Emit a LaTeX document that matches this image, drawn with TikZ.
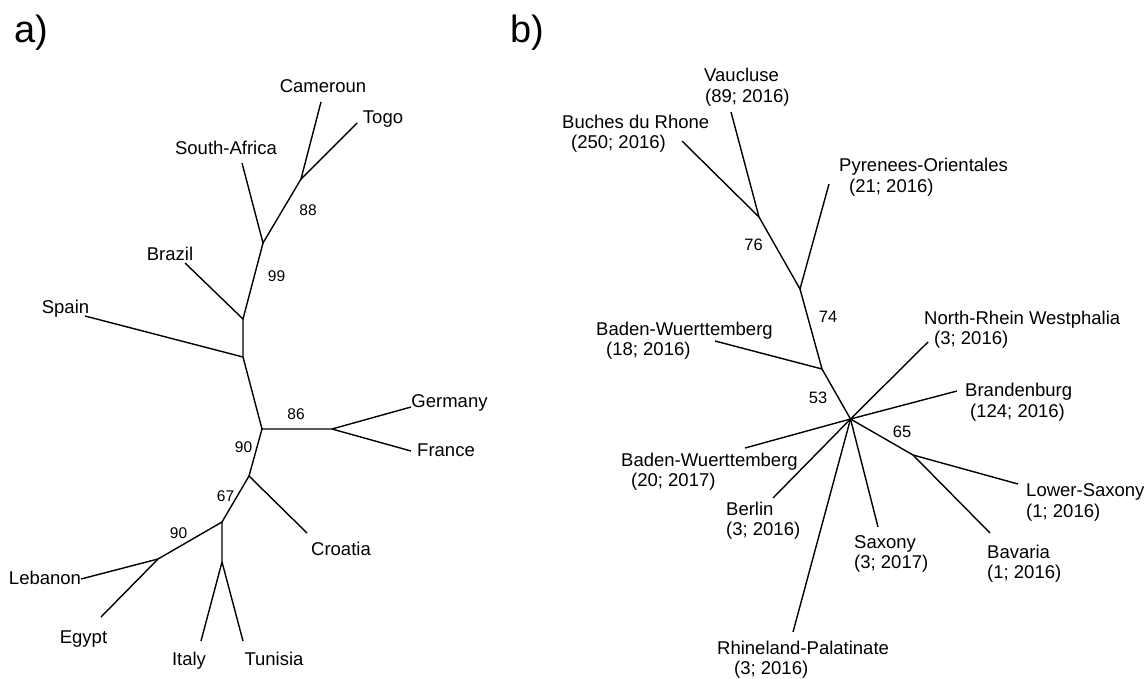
\documentclass[tikz,border=0pt]{standalone}
\usepackage{fontspec}
\setmainfont{Liberation Sans}
\begin{document}
\begin{tikzpicture}[x=1pt,y=-1pt,
  br/.style={line width=1.4pt},
  lab/.style={inner sep=0pt,font=\fontsize{18.5}{20.5}\selectfont},
  lbl/.style={lab,anchor=base},
  mlab/.style={lab,anchor=base west,align=left,yshift=-20.5pt},
  boot/.style={inner sep=0pt,anchor=base,font=\fontsize{15.5}{18}\selectfont},
  bootb/.style={inner sep=0pt,anchor=base,font=\fontsize{16.5}{19}\selectfont},
  panel/.style={inner sep=0pt,anchor=base west,font=\fontsize{38}{44}\selectfont}]
\useasboundingbox (0,0) rectangle (1147,678);

% ---------------- panel a ----------------
\node[panel] (pa) at (14.6,42) {a)};
\coordinate (aCam) at (321,102);
\coordinate (aTog) at (357,123);
\coordinate (a88) at (301,179);
\coordinate (aSA) at (242,163);
\coordinate (a99) at (263,243);
\coordinate (aBra) at (185,263);
\coordinate (aJB) at (243,319);
\coordinate (aSpa) at (85,316);
\coordinate (aJS) at (243,357);
\coordinate (a90) at (262,429);
\coordinate (aGF) at (332,429);
\coordinate (aGer) at (411,407);
\coordinate (aFra) at (411,451);
\coordinate (a67) at (249,476);
\coordinate (aCro) at (307,533);
\coordinate (a90b) at (222,522);
\coordinate (aLE) at (158,559);
\coordinate (aLeb) at (81,579);
\coordinate (aEgy) at (101,617);
\coordinate (aIT) at (222,562);
\coordinate (aIta) at (201,641);
\coordinate (aTun) at (243,641);

\draw[br] (aCam) -- (a88) -- (aTog);
\draw[br] (a88) -- (a99) -- (aSA);
\draw[br] (a99) -- (aJB) -- (aBra);
\draw[br] (aJB) -- (aJS) -- (aSpa);
\draw[br] (aJS) -- (a90) -- (aGF) -- (aGer);
\draw[br] (aGF) -- (aFra);
\draw[br] (a90) -- (a67) -- (aCro);
\draw[br] (a67) -- (a90b) -- (aLE) -- (aLeb);
\draw[br] (aLE) -- (aEgy);
\draw[br] (a90b) -- (aIT) -- (aIta);
\draw[br] (aIT) -- (aTun);

\node[lbl] (tCam) at (323,92) {Cameroun};
\node[lbl] (tTog) at (383,123) {Togo};
\node[lbl] (tSA) at (226,154) {South-Africa};
\node[lbl] (tBra) at (170,260) {Brazil};
\node[lbl] (tSpa) at (65.5,313) {Spain};
\node[lbl] (tGer) at (449.5,407) {Germany};
\node[lbl] (tFra) at (446,456) {France};
\node[lbl] (tCro) at (341,555) {Croatia};
\node[lbl] (tLeb) at (45,584) {Lebanon};
\node[lbl] (tEgy) at (83.5,643) {Egypt};
\node[lbl] (tIta) at (189,665) {Italy};
\node[lbl] (tTun) at (274,665) {Tunisia};

\node[boot] (n88) at (308,215) {88};
\node[boot] (n99) at (276.5,281) {99};
\node[boot] (n86) at (296,419) {86};
\node[boot] (n90a) at (243.5,452) {90};
\node[boot] (n67) at (225.5,501) {67};
\node[boot] (n90b) at (178.5,538) {90};

% ---------------- panel b ----------------
\node[panel] (pb) at (510.5,42) {b)};
\coordinate (bH) at (850.5,419);
\coordinate (b53) at (822,369);
\coordinate (b74) at (800,289);
\coordinate (b76) at (759,217);
\coordinate (bBuc) at (682,141);
\coordinate (bVau) at (731,112);
\coordinate (bPyr) at (829,184);
\coordinate (bBW18) at (715,341);
\coordinate (bNRW) at (928,342);
\coordinate (bBra) at (957,391);
\coordinate (b65) at (913,455);
\coordinate (bLS) at (1018,484);
\coordinate (bBav) at (990,533);
\coordinate (bSax) at (878,527);
\coordinate (bRP) at (793,632);
\coordinate (bBer) at (773,498);
\coordinate (bBW20) at (745,448);

\draw[br] (bBuc) -- (b76) -- (bVau);
\draw[br] (b76) -- (b74) -- (bPyr);
\draw[br] (b74) -- (b53) -- (bBW18);
\draw[br] (b53) -- (bH);
\draw[br] (bH) -- (bNRW);
\draw[br] (bH) -- (bBra);
\draw[br] (bH) -- (b65) -- (bLS);
\draw[br] (b65) -- (bBav);
\draw[br] (bH) -- (bSax);
\draw[br] (bH) -- (bRP);
\draw[br] (bH) -- (bBer);
\draw[br] (bH) -- (bBW20);

\node[mlab] (tVau) at (704,81.6) {Vaucluse\\\hspace*{1pt}(89; 2016)};
\node[mlab] (tBuc) at (562,128) {Buches du Rhone\\\hspace*{9pt}(250; 2016)};
\node[mlab] (tPyr) at (839,171.5) {Pyrenees-Orientales\\\hspace*{10pt}(21; 2016)};
\node[mlab] (tBW18) at (596,335) {Baden-Wuerttemberg\\\hspace*{10pt}(18; 2016)};
\node[mlab] (tNRW) at (924,324) {North-Rhein Westphalia\\\hspace*{10pt}(3; 2016)};
\node[mlab] (tBra) at (965,396.7) {Brandenburg\\\hspace*{5pt}(124; 2016)};
\node[mlab] (tBW20) at (621,466) {Baden-Wuerttemberg\\\hspace*{10pt}(20; 2017)};
\node[mlab] (tBer) at (726,515) {Berlin\\(3; 2016)};
\node[mlab] (tSax) at (854,548) {Saxony\\(3; 2017)};
\node[mlab] (tRP) at (717,654) {Rhineland-Palatinate\\\hspace*{17pt}(3; 2016)};
\node[mlab] (tLS) at (1026,496.7) {Lower-Saxony\\(1; 2016)};
\node[mlab] (tBav) at (987,558.3) {Bavaria\\(1; 2016)};

\node[bootb] (n76) at (753.5,250) {76};
\node[bootb] (n74) at (828,322.5) {74};
\node[bootb] (n53) at (818,403) {53};
\node[bootb] (n65) at (902,437) {65};
\end{tikzpicture}
\end{document}
